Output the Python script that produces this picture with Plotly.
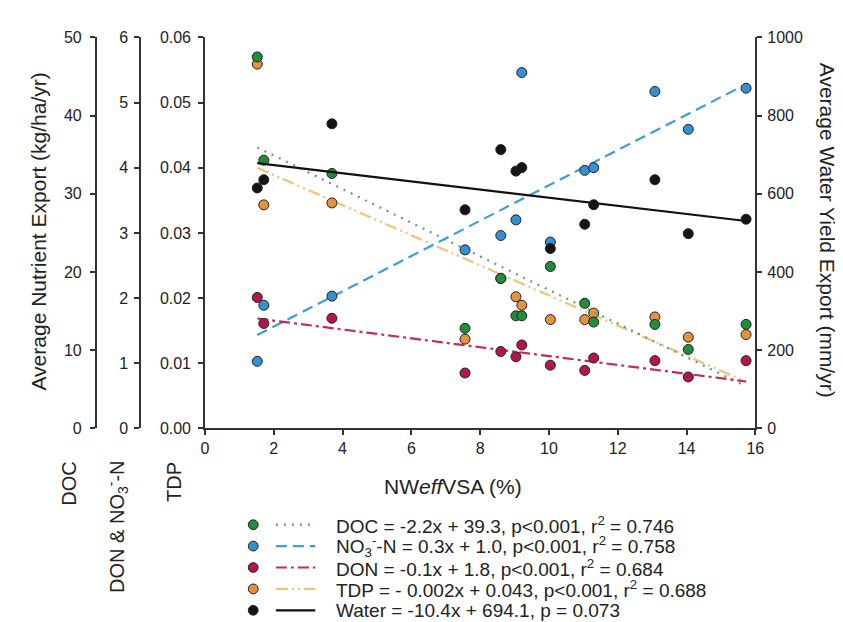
import plotly.graph_objects as go

# ---------------- data ----------------
nweffvsa = [1.52, 1.71, 3.69, 7.56, 8.60, 9.04, 9.21, 10.04, 11.04, 11.30, 13.08, 14.05, 15.73]
doc = [47.5, 34.3, 32.6, 12.8, 19.2, 14.4, 14.4, 20.7, 16.0, 13.6, 13.3, 10.1, 13.3]
no3 = [1.03, 1.89, 2.03, 2.74, 2.96, 3.20, 5.46, 2.86, 3.96, 4.00, 5.17, 4.59, 5.22]
don = [2.01, 1.61, 1.69, 0.85, 1.18, 1.10, 1.28, 0.97, 0.89, 1.08, 1.04, 0.79, 1.04]
tdp = [0.0559, 0.0343, 0.0346, 0.0137, 0.0230, 0.0202, 0.0189, 0.0167, 0.0167, 0.0177, 0.0171, 0.0140, 0.0144]
water = [615, 636, 779, 559, 713, 658, 667, 460, 522, 572, 636, 498, 535]

# regression lines (slope, intercept) as drawn
doc_fit = (-2.15, 39.2)
no3_fit = (0.271, 1.02)
don_fit = (-0.068, 1.79)
tdp_fit = (-0.00231, 0.0435)
water_fit = (-10.4, 694.1)

legend_labels = [
    "DOC = -2.2x + 39.3, p&lt;0.001, r<sup>2</sup> = 0.746",
    "NO<sub>3</sub><sup>-</sup>-N = 0.3x + 1.0, p&lt;0.001, r<sup>2</sup> = 0.758",
    "DON = -0.1x + 1.8, p&lt;0.001, r<sup>2</sup> = 0.684",
    "TDP = - 0.002x + 0.043, p&lt;0.001, r<sup>2</sup> = 0.688",
    "Water = -10.4x + 694.1, p = 0.073",
]

x_ticks = [0, 2, 4, 6, 8, 10, 12, 14, 16]

# ---------------- styling ----------------
W, H = 843, 622
FONT = "Liberation Sans, Arial, sans-serif"
AX = "#333333"
c_doc, c_no3, c_don, c_tdp, c_wat = "#238b3c", "#3590d2", "#b3174a", "#e3933f", "#141414"
l_doc, l_no3, l_don, l_tdp, l_wat = "#5f9c86", "#3d9ed8", "#c42b5b", "#f0c278", "#111111"
d_doc, d_no3, d_don, d_tdp, d_wat = "2px,6px", "11px,6px", "11px,4px,3px,4px", "12px,4px,2px,4px,2px,4px", "solid"

def px_x(p):
    return p / W

def px_y(p):
    return 1 - p / H

x0p, x1p = 196, 755
y_top, y_bot = 22, 424

fig = go.Figure()

xmin, xmax = min(nweffvsa), max(nweffvsa)

def fit_line(fit, axis, color, dash):
    s, b = fit
    fig.add_trace(go.Scatter(x=[xmin, xmax], y=[s * xmin + b, s * xmax + b], mode="lines",
                             yaxis=axis, line=dict(color=color, width=2.2, dash=dash),
                             showlegend=False, hoverinfo="skip"))

fit_line(doc_fit, "y2", l_doc, d_doc)
fit_line(no3_fit, "y3", l_no3, d_no3)
fit_line(don_fit, "y3", l_don, d_don)
fit_line(tdp_fit, "y", l_tdp, d_tdp)
fit_line(water_fit, "y4", l_wat, d_wat)

def pts(y, axis, color):
    fig.add_trace(go.Scatter(x=nweffvsa, y=y, mode="markers", yaxis=axis, cliponaxis=False,
                             marker=dict(size=10, color=color, line=dict(color="#222222", width=1)),
                             showlegend=False))

pts(water, "y4", c_wat)
pts(doc, "y2", c_doc)
pts(no3, "y3", c_no3)
pts(don, "y3", c_don)
pts(tdp, "y", c_tdp)

tickfont = dict(family=FONT, size=16, color="#222222")
common_y = dict(showgrid=False, zeroline=False, showline=True, linecolor=AX, linewidth=1.5,
                ticks="outside", ticklen=5, tickcolor=AX, tickwidth=1.5, tickfont=tickfont)

fig.update_layout(
    width=W, height=H, margin=dict(l=0, r=0, t=0, b=0),
    paper_bgcolor="white", plot_bgcolor="white", showlegend=False,
    font=dict(family=FONT, color="#222222"),
    xaxis=dict(domain=[px_x(x0p), px_x(x1p)], range=[0, 16], tickvals=x_ticks,
               showgrid=False, zeroline=False, showline=True, linecolor=AX, linewidth=1.5,
               ticks="outside", ticklen=5, tickcolor=AX, tickwidth=1.5, tickfont=tickfont),
    yaxis=dict(domain=[px_y(y_bot), px_y(y_top)], range=[0, 0.06], dtick=0.01, tickformat=".2f",
               anchor="x", ticklabelstandoff=4, **common_y),
    yaxis2=dict(overlaying="y", anchor="free", position=px_x(85), range=[0, 50], dtick=10,
                ticklabelstandoff=5, **common_y),
    yaxis3=dict(overlaying="y", anchor="free", position=px_x(130), range=[0, 6], dtick=1,
                ticklabelstandoff=3, **common_y),
    yaxis4=dict(overlaying="y", anchor="x", side="right", range=[0, 1000], dtick=200,
                ticklabelstandoff=2, **common_y),
)

ann = []
def text(x, y, t, size, angle=0, xa="center", ya="middle"):
    ann.append(dict(x=px_x(x), y=px_y(y), xref="paper", yref="paper", text=t, showarrow=False,
                    textangle=angle, xanchor=xa, yanchor=ya,
                    font=dict(family=FONT, size=size, color="#222222")))

text(27, 222, "Average Nutrient Export (kg/ha/yr)", 21, -90)
text(828, 220, "Average Water Yield Export (mm/yr)", 21, 90)
text(448, 484, "NW<i>eff</i>VSA (%)", 21)
text(57, 456, "DOC", 20, -90, ya="top")
text(107, 455, "DON &amp; NO<sub>3</sub><sup>-</sup>-N", 20, -90, ya="top")
text(164, 456, "TDP", 20, -90, ya="top")

rows = [523, 545, 567, 589, 611]
shapes = []
styles = [(c_doc, l_doc, d_doc), (c_no3, l_no3, d_no3), (c_don, l_don, d_don),
          (c_tdp, l_tdp, d_tdp), (c_wat, l_wat, d_wat)]
for ry, lab, (mc, lc, dsh) in zip(rows, legend_labels, styles):
    shapes.append(dict(type="circle", xref="paper", yref="paper",
                       x0=px_x(240), x1=px_x(250), y0=px_y(ry + 5), y1=px_y(ry - 5),
                       fillcolor=mc, line=dict(color="#222222", width=1)))
    shapes.append(dict(type="line", xref="paper", yref="paper",
                       x0=px_x(268), x1=px_x(308), y0=px_y(ry), y1=px_y(ry),
                       line=dict(color=lc, width=2.2, dash=dsh)))
    text(327, ry, lab, 19, xa="left")

fig.update_layout(annotations=ann, shapes=shapes)
fig.write_html("out.html")
